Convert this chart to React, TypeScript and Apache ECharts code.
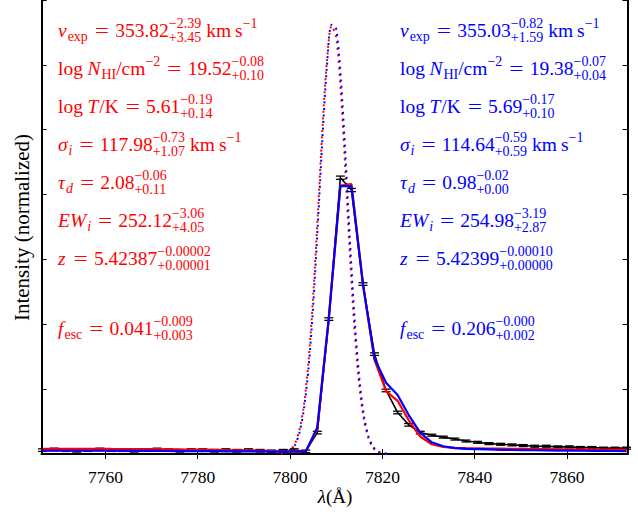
import React, { useEffect, useRef } from 'react';
import * as echarts from 'echarts';

// ---------- data ----------
const xTickValues = [7760, 7780, 7800, 7820, 7840, 7860];

const obsWave = [
  7746.4, 7748.9, 7751.4, 7753.8, 7756.3, 7758.8, 7761.3, 7763.7, 7766.2, 7768.7,
  7771.2, 7773.7, 7776.1, 7778.6, 7781.1, 7783.6, 7786.1, 7788.5, 7791.0, 7793.5,
  7796.0, 7798.5, 7800.9, 7803.4, 7805.9, 7808.4, 7810.9, 7813.3, 7815.8, 7818.3,
  7820.8, 7823.3, 7825.7, 7828.2, 7830.7, 7833.2, 7835.7, 7838.1, 7840.6, 7843.1,
  7845.6, 7848.1, 7850.5, 7853.0, 7855.5, 7858.0, 7860.5, 7862.9, 7865.4, 7867.9,
  7870.4, 7872.9,
];
const obsFlux = [
  0.06, 0.07, 0.06, 0.05, 0.06, 0.07, 0.06, 0.06, 0.05, 0.06,
  0.07, 0.06, 0.05, 0.06, 0.06, 0.05, 0.06, 0.05, 0.06, 0.05,
  0.04, 0.05, 0.06, 0.04, 0.33, 2.08, 4.26, 4.07, 2.62, 1.54,
  0.98, 0.64, 0.45, 0.33, 0.29, 0.26, 0.23, 0.20, 0.18, 0.16,
  0.15, 0.14, 0.13, 0.12, 0.12, 0.11, 0.11, 0.10, 0.10, 0.09,
  0.09, 0.09,
];
const obsErr = [
  0.02, 0.02, 0.02, 0.02, 0.02, 0.02, 0.02, 0.02, 0.02, 0.02,
  0.02, 0.02, 0.02, 0.02, 0.02, 0.02, 0.02, 0.02, 0.02, 0.02,
  0.02, 0.02, 0.02, 0.02, 0.02, 0.02, 0.025, 0.025, 0.02, 0.02,
  0.02, 0.02, 0.02, 0.02, 0.015, 0.015, 0.015, 0.015, 0.015, 0.015,
  0.015, 0.015, 0.015, 0.015, 0.015, 0.015, 0.015, 0.015, 0.015, 0.015,
  0.015, 0.015,
];
const redModel = [
  0.08, 0.08, 0.08, 0.08, 0.08, 0.08, 0.078, 0.077, 0.076, 0.075,
  0.074, 0.072, 0.07, 0.068, 0.066, 0.064, 0.06, 0.058, 0.055, 0.052,
  0.048, 0.045, 0.042, 0.04, 0.38, 2.1, 4.14, 4.16, 2.62, 1.45,
  0.97, 0.82, 0.52, 0.27, 0.15, 0.11, 0.095, 0.09, 0.088, 0.085,
  0.083, 0.08, 0.078, 0.076, 0.075, 0.073, 0.072, 0.07, 0.07, 0.068,
  0.067, 0.066,
];
const blueModel = [
  0.05, 0.05, 0.05, 0.05, 0.05, 0.05, 0.05, 0.049, 0.048, 0.048,
  0.047, 0.046, 0.045, 0.045, 0.044, 0.043, 0.042, 0.041, 0.04, 0.04,
  0.038, 0.037, 0.036, 0.038, 0.41, 2.1, 4.13, 4.13, 2.61, 1.47,
  1.10, 0.91, 0.60, 0.33, 0.18, 0.12, 0.09, 0.08, 0.075, 0.07,
  0.065, 0.062, 0.06, 0.058, 0.055, 0.053, 0.052, 0.05, 0.048, 0.047,
  0.046, 0.045,
];

const intrWave = [
  7798, 7799, 7800, 7801, 7802, 7803, 7804, 7805, 7806, 7807, 7808, 7809,
  7810, 7811, 7812, 7813, 7814, 7815, 7816, 7817, 7818, 7819, 7820, 7821,
];
const redIntr = [
  0.006, 0.019, 0.057, 0.15, 0.36, 0.75, 1.43, 2.43, 3.68, 5.0, 6.07, 6.6,
  6.42, 5.58, 4.35, 3.03, 1.89, 1.05, 0.53, 0.24, 0.094, 0.034, 0.011, 0.003,
];
const blueIntr = [
  0.005, 0.016, 0.049, 0.13, 0.32, 0.69, 1.32, 2.28, 3.52, 4.85, 5.99, 6.62,
  6.55, 5.79, 4.59, 3.25, 2.06, 1.17, 0.59, 0.27, 0.11, 0.04, 0.013, 0.004,
];

// ---------- annotation text ----------
type Tok = { k: 'rm' | 'it' | 'subrm' | 'subit' | 'suprm' | 'eq' | 'sp'; t: string };
const rowPrefixes: Tok[][] = [
  [{ k: 'it', t: 'v' }, { k: 'subrm', t: 'exp' }, { k: 'eq', t: '=' }],
  [{ k: 'rm', t: 'log' }, { k: 'sp', t: '4.5' }, { k: 'it', t: 'N' }, { k: 'subrm', t: 'HI' }, { k: 'rm', t: '/cm' }, { k: 'suprm', t: '−2' }, { k: 'eq', t: '=' }],
  [{ k: 'rm', t: 'log' }, { k: 'sp', t: '4.5' }, { k: 'it', t: 'T' }, { k: 'rm', t: '/K' }, { k: 'eq', t: '=' }],
  [{ k: 'it', t: 'σ' }, { k: 'subit', t: 'i' }, { k: 'eq', t: '=' }],
  [{ k: 'it', t: 'τ' }, { k: 'subit', t: 'd' }, { k: 'eq', t: '=' }],
  [{ k: 'it', t: 'EW' }, { k: 'subit', t: 'i' }, { k: 'eq', t: '=' }],
  [{ k: 'it', t: 'z' }, { k: 'eq', t: '=' }],
  [{ k: 'it', t: 'f' }, { k: 'subrm', t: 'esc' }, { k: 'eq', t: '=' }],
];
const rowHasUnit = [true, false, false, true, false, false, false, false];
const redValues = [
  ['353.82', '−2.39', '+3.45'], ['19.52', '−0.08', '+0.10'], ['5.61', '−0.19', '+0.14'],
  ['117.98', '−0.73', '+1.07'], ['2.08', '−0.06', '+0.11'], ['252.12', '−3.06', '+4.05'],
  ['5.42387', '−0.00002', '+0.00001'], ['0.041', '−0.009', '+0.003'],
];
const blueValues = [
  ['355.03', '−0.82', '+1.59'], ['19.38', '−0.07', '+0.04'], ['5.69', '−0.17', '+0.10'],
  ['114.64', '−0.59', '+0.59'], ['0.98', '−0.02', '+0.00'], ['254.98', '−3.19', '+2.87'],
  ['5.42399', '−0.00010', '+0.00000'], ['0.206', '−0.000', '+0.002'],
];
const rowBaselines = [37, 75, 113, 151, 189, 227, 265, 335];

const FAM = "'Liberation Serif', 'DejaVu Serif', serif";
const FS = 19.5;
const SS = 14;

let ctx: CanvasRenderingContext2D | null = null;
function fontStr(it: boolean, size: number) {
  return `${it ? 'italic ' : 'normal '}normal ${size}px ${FAM}`;
}
function measure(text: string, it: boolean, size: number) {
  if (!ctx) ctx = document.createElement('canvas').getContext('2d');
  ctx!.font = fontStr(it, size);
  return ctx!.measureText(text).width;
}
function textEl(x: number, baseline: number, text: string, it: boolean, size: number, color: string) {
  return {
    type: 'text',
    x,
    y: baseline - 0.3375 * size,
    silent: true,
    style: {
      text,
      fill: color,
      font: fontStr(it, size),
      align: 'left',
      verticalAlign: 'middle',
    },
  };
}
function buildRow(x0: number, base: number, toks: Tok[], vals: string[], unit: boolean, color: string) {
  const els: any[] = [];
  let x = x0;
  const put = (tk: Tok) => {
    if (tk.k === 'sp') {
      x += parseFloat(tk.t);
      return;
    }
    if (tk.k === 'eq') {
      x += 7;
      els.push({
        type: 'text', x, y: base - 0.3375 * FS, silent: true, scaleX: 1.3,
        style: { text: '=', fill: color, font: fontStr(false, FS), align: 'left', verticalAlign: 'middle' },
      });
      x += measure('=', false, FS) * 1.3 + 6;
      return;
    }
    const small = tk.k !== 'rm' && tk.k !== 'it';
    const it = tk.k === 'it' || tk.k === 'subit';
    const size = small ? SS : FS;
    const dy = tk.k.startsWith('sub') ? 4 : tk.k.startsWith('sup') ? -8.7 : 0;
    els.push(textEl(x, base + dy, tk.t, it, size, color));
    x += measure(tk.t, it, size) + (tk.k === 'it' ? 1 : 0);
  };
  toks.forEach(put);
  put({ k: 'rm', t: vals[0] });
  const w1 = measure(vals[1], false, SS);
  const w2 = measure(vals[2], false, SS);
  els.push(textEl(x, base - 8.7, vals[1], false, SS, color));
  els.push(textEl(x, base + 5.5, vals[2], false, SS, color));
  x += Math.max(w1, w2);
  if (unit) {
    put({ k: 'sp', t: '5' });
    put({ k: 'rm', t: 'km' });
    put({ k: 'sp', t: '4' });
    put({ k: 'rm', t: 's' });
    put({ k: 'suprm', t: '−1' });
  }
  return els;
}

export default function App() {
  const ref = useRef<HTMLDivElement>(null);
  useEffect(() => {
    if (!ref.current) return;
    const chart = echarts.init(ref.current, null, { renderer: 'svg' });

    const graphics: any[] = [];
    rowPrefixes.forEach((toks, i) => {
      graphics.push(...buildRow(58, rowBaselines[i], toks, redValues[i], rowHasUnit[i], '#ff0000'));
      graphics.push(...buildRow(400, rowBaselines[i], toks, blueValues[i], rowHasUnit[i], '#0000ff'));
    });
    // x axis name
    const wl = measure('λ', true, 19);
    const wr = measure('(Å)', false, 19);
    const xs = 335 - (wl + wr) / 2;
    graphics.push(textEl(xs, 503, 'λ', true, 19, '#000'));
    graphics.push(textEl(xs + wl, 503, '(Å)', false, 19, '#000'));
    // y axis name
    graphics.push({
      type: 'text',
      x: 22,
      y: 227.5,
      rotation: Math.PI / 2,
      silent: true,
      style: {
        text: 'Intensity (normalized)',
        fill: '#000',
        font: fontStr(false, 21),
        align: 'center',
        verticalAlign: 'middle',
      },
    });

    const pairs = (xs: number[], ys: number[]) => xs.map((x, i) => [x, ys[i]]);
    const axisLine = { show: true, lineStyle: { color: '#000', width: 2 } };

    chart.setOption({
      animation: false,
      backgroundColor: '#fff',
      grid: { left: 41.7, right: 10.5, top: 0, bottom: 58, containLabel: false },
      xAxis: [
        {
          type: 'value', min: 7746.2, max: 7873.1, position: 'bottom',
          axisLine,
          axisTick: { show: true, inside: true, length: 5, customValues: xTickValues, lineStyle: { color: '#000', width: 1 } },
          axisLabel: {
            show: true, customValues: xTickValues, margin: 14, color: '#000', fontFamily: FAM, fontSize: 17.5,
            formatter: (v: number) => String(Math.round(v)),
          },
          splitLine: { show: false },
        },
        {
          type: 'value', min: 7746.2, max: 7873.1, position: 'top',
          axisLine,
          axisTick: { show: true, inside: true, length: 5, customValues: xTickValues, lineStyle: { color: '#000', width: 1 } },
          axisLabel: { show: false },
          splitLine: { show: false },
        },
      ],
      yAxis: [
        {
          type: 'value', min: 0, max: 7, interval: 1, position: 'left',
          axisLine,
          axisTick: { show: true, inside: true, length: 5, lineStyle: { color: '#000', width: 1 } },
          axisLabel: { show: false },
          splitLine: { show: false },
        },
        {
          type: 'value', min: 0, max: 7, interval: 1, position: 'right',
          axisLine,
          axisTick: { show: true, inside: true, length: 5, lineStyle: { color: '#000', width: 1 } },
          axisLabel: { show: false },
          splitLine: { show: false },
        },
      ],
      series: [
        {
          type: 'line', name: 'red intrinsic', data: pairs(intrWave, redIntr), showSymbol: false, smooth: 0.3, z: 1,
          lineStyle: { color: '#ff0000', width: 2, type: [2, 4.5], dashOffset: 0, cap: 'butt' },
        },
        {
          type: 'line', name: 'blue intrinsic', data: pairs(intrWave, blueIntr), showSymbol: false, smooth: 0.3, z: 1,
          lineStyle: { color: '#0000ff', width: 2, type: [2, 4.5], dashOffset: 3, cap: 'butt' },
        },
        {
          type: 'line', name: 'data', data: pairs(obsWave, obsFlux), showSymbol: false, z: 2,
          lineStyle: { color: '#000', width: 1.6 },
        },
        {
          type: 'custom', name: 'errors', z: 3,
          data: obsWave.map((w, i) => [w, obsFlux[i] - obsErr[i], obsFlux[i] + obsErr[i]]),
          encode: { x: 0, y: [1, 2] },
          renderItem: (params: any, api: any) => {
            const lo = api.coord([api.value(0), api.value(1)]);
            const hi = api.coord([api.value(0), api.value(2)]);
            const hw = 4.5;
            const st = { stroke: '#000', lineWidth: 1.3 };
            return {
              type: 'group',
              children: [
                { type: 'line', shape: { x1: lo[0], y1: lo[1], x2: hi[0], y2: hi[1] }, style: st },
                { type: 'line', shape: { x1: lo[0] - hw, y1: lo[1], x2: lo[0] + hw, y2: lo[1] }, style: st },
                { type: 'line', shape: { x1: hi[0] - hw, y1: hi[1], x2: hi[0] + hw, y2: hi[1] }, style: st },
              ],
            };
          },
        },
        {
          type: 'line', name: 'red model', data: pairs(obsWave, redModel), showSymbol: false, z: 4,
          lineStyle: { color: '#ff0000', width: 2.2 },
        },
        {
          type: 'line', name: 'blue model', data: pairs(obsWave, blueModel), showSymbol: false, z: 5,
          lineStyle: { color: '#0000ff', width: 2.2 },
        },
      ],
      graphic: graphics,
    });
    return () => chart.dispose();
  }, []);
  return <div ref={ref} style={{ position: 'fixed', left: 0, top: 0, width: 638, height: 512 }} />;
}
